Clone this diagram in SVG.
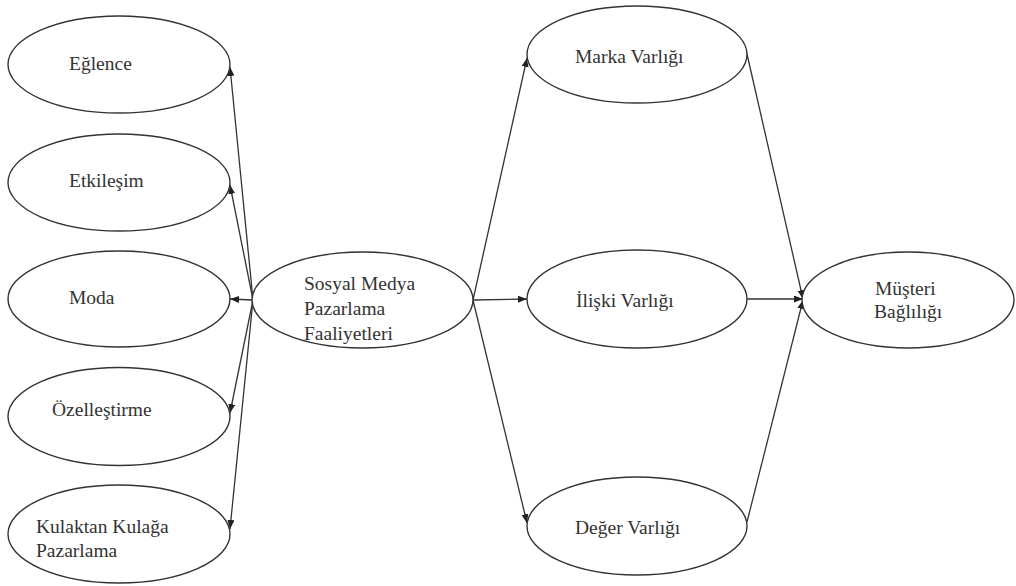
<svg xmlns="http://www.w3.org/2000/svg" width="1016" height="586" viewBox="0 0 1016 586">
  <style>
    .node ellipse { fill: #fff; stroke: #333; stroke-width: 1.4; }
    .node text { font-size: 19.5px; fill: #333; }
    #connectors line { stroke: #333; stroke-width: 1.3; marker-end: url(#arrow); }
  </style>
  <defs>
    <marker id="arrow" markerUnits="userSpaceOnUse" markerWidth="10" markerHeight="8" refX="9" refY="3.5" orient="auto">
      <path d="M0,0 L9,3.5 L0,7 z" fill="#222"/>
    </marker>
  </defs>
  <rect width="1016" height="586" fill="#fff"/>

  <!-- connectors -->
  <g id="connectors">
    <!-- central construct to its five dimensions -->
    <line x1="253" y1="300" x2="230" y2="67"/>
    <line x1="253" y1="300" x2="230" y2="185"/>
    <line x1="253" y1="300" x2="230" y2="299"/>
    <line x1="253" y1="300" x2="230" y2="413"/>
    <line x1="253" y1="300" x2="230" y2="529"/>
    <!-- central construct to the equity constructs -->
    <line x1="473" y1="300" x2="527" y2="58"/>
    <line x1="473" y1="300" x2="527" y2="299"/>
    <line x1="473" y1="300" x2="527" y2="523"/>
    <!-- equity constructs to loyalty -->
    <line x1="747" y1="54" x2="803" y2="299"/>
    <line x1="747" y1="299" x2="803" y2="299"/>
    <line x1="747" y1="522" x2="803" y2="300"/>
  </g>

  <g font-family="'Liberation Serif', Tinos, 'Times New Roman', 'DejaVu Serif', serif">
    <g id="eglence" class="node">
      <ellipse cx="119" cy="64.5" rx="111" ry="48.5"/>
      <text x="69" y="70">Eğlence</text>
    </g>
    <g id="etkilesim" class="node">
      <ellipse cx="119" cy="182.5" rx="111" ry="48.5"/>
      <text x="69" y="187">Etkileşim</text>
    </g>
    <g id="moda" class="node">
      <ellipse cx="119" cy="299" rx="111" ry="48"/>
      <text x="69" y="304">Moda</text>
    </g>
    <g id="ozellestirme" class="node">
      <ellipse cx="119" cy="416.5" rx="111" ry="49"/>
      <text x="52" y="416">Özelleştirme</text>
    </g>
    <g id="kulaktan" class="node">
      <ellipse cx="119" cy="534" rx="111" ry="49"/>
      <text x="36" y="533">Kulaktan Kulağa</text>
      <text x="36" y="557">Pazarlama</text>
    </g>

    <g id="smpf" class="node">
      <ellipse cx="362.5" cy="300" rx="110.5" ry="48"/>
      <text x="304" y="290">Sosyal Medya</text>
      <text x="304" y="315">Pazarlama</text>
      <text x="304" y="340">Faaliyetleri</text>
    </g>

    <g id="marka" class="node">
      <ellipse cx="637" cy="54.5" rx="110" ry="48.5"/>
      <text x="575" y="63">Marka Varlığı</text>
    </g>
    <g id="iliski" class="node">
      <ellipse cx="637" cy="299" rx="110" ry="49"/>
      <text x="576" y="307">İlişki Varlığı</text>
    </g>
    <g id="deger" class="node">
      <ellipse cx="637" cy="526" rx="110" ry="49"/>
      <text x="575" y="534">Değer Varlığı</text>
    </g>

    <g id="musteri" class="node">
      <ellipse cx="908" cy="300" rx="106" ry="48"/>
      <text x="875" y="295">Müşteri</text>
      <text x="874" y="318">Bağlılığı</text>
    </g>
  </g>
</svg>
